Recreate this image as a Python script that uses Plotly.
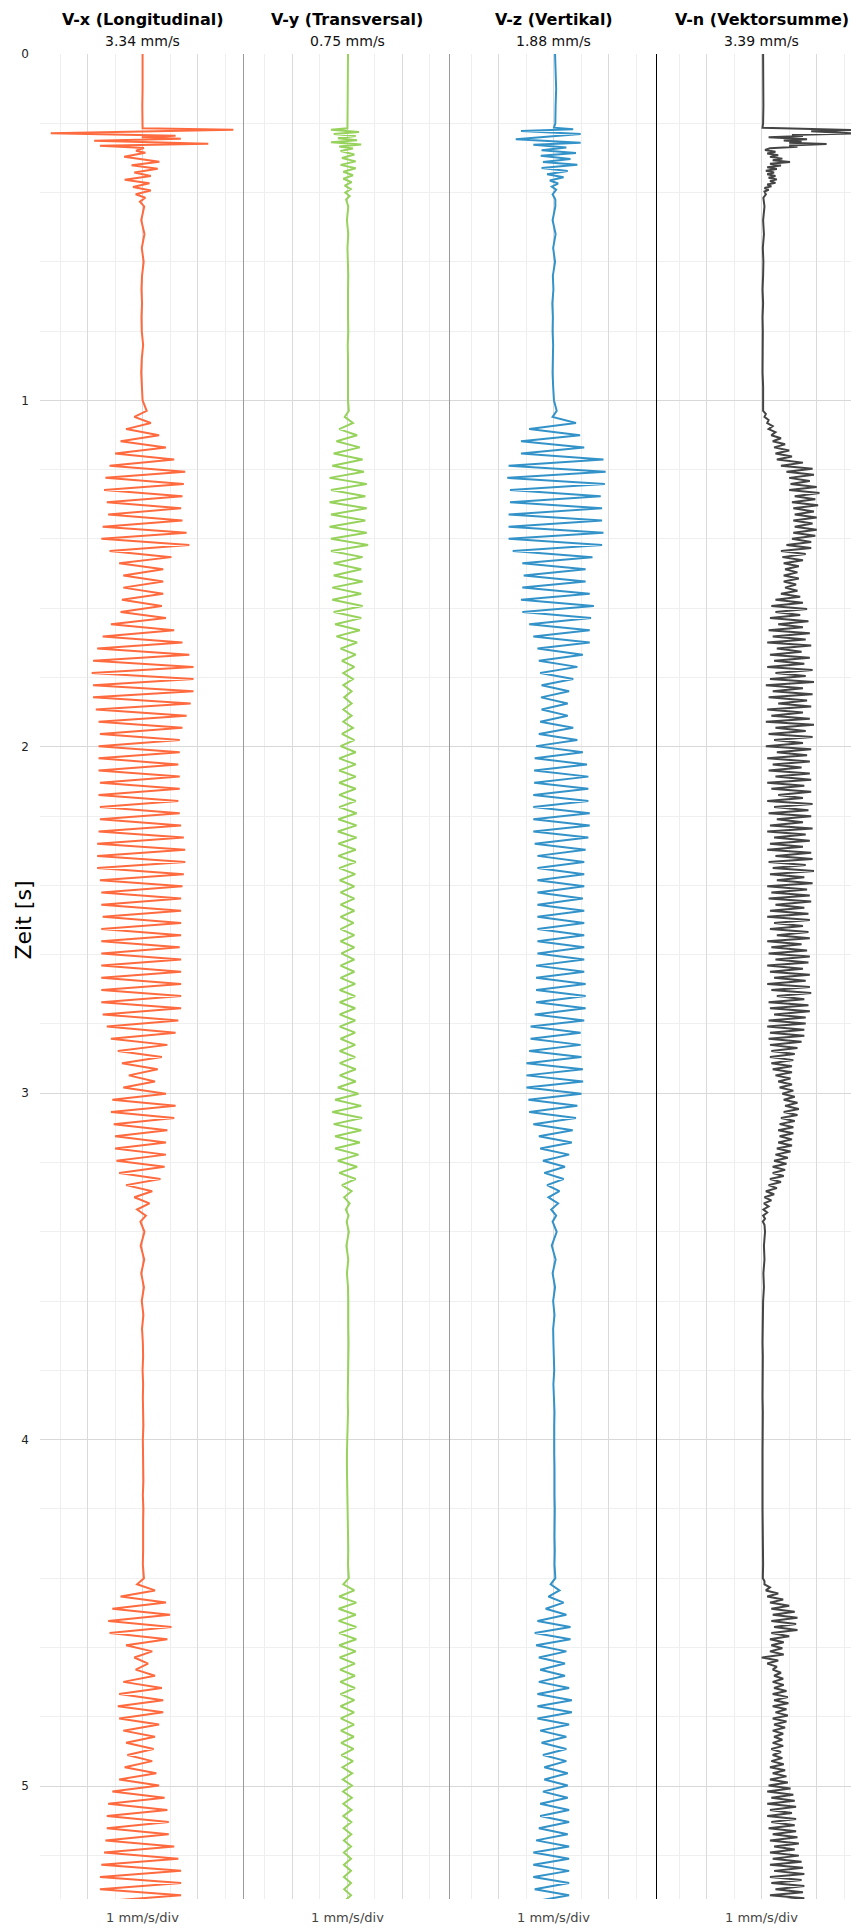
import numpy as np
import plotly.graph_objects as go
from plotly.subplots import make_subplots

# ---------------- labels / colours ----------------
TITLES = ["V-x (Longitudinal)", "V-y (Transversal)", "V-z (Vertikal)", "V-n (Vektorsumme)"]
PEAKS = ["3.34 mm/s", "0.75 mm/s", "1.88 mm/s", "3.39 mm/s"]
SCALE_LABEL = "1 mm/s/div"
Y_TITLE = "Zeit [s]"
COLORS = ["#ff6a3f", "#97d35c", "#3393c9", "#444444"]

# ---------------- sampling grids (time, s) ----------------
STEP = 0.0176      # spacing of component samples in the strong-motion segments
STEP_N = 0.0088    # spacing of vector-sum samples
SEG1_START = 1.03
SEG2_START = 4.40
PRE_T = [0.0, 0.05, 0.10, 0.15, 0.20]
QUIET1_T = [0.44, 0.48, 0.52, 0.56, 0.60, 0.64, 0.68, 0.72, 0.76, 0.80, 0.84, 0.88, 0.92, 0.96, 1.00]
QUIET2_T = [3.40, 3.44, 3.48, 3.52, 3.56, 3.60, 3.64, 3.68, 3.72, 3.76, 3.80, 3.84, 3.88,
            3.92, 3.96, 4.00, 4.04, 4.08, 4.12, 4.16, 4.20, 4.24, 4.28, 4.32, 4.36]

# ---------------- V-x ----------------
VX_PRE = [0.0, 0.01, 0.0, -0.01, 0.0]
VX_BURST_T = [0.2145, 0.2185, 0.229, 0.236, 0.2405, 0.2445, 0.2502, 0.2589, 0.2647, 0.2714, 0.279, 0.285,
              0.2964, 0.3108, 0.321, 0.331, 0.342, 0.352, 0.363, 0.373, 0.384, 0.394, 0.405, 0.415, 0.426]
VX_BURST = [0.0, 3.30, -3.34, 1.2, -0.03, 1.39, -1.76, 2.39, -1.55, 0.05, -0.24, 0.1,
            -0.67, 0.61, -0.4, 0.55, -0.3, 0.3, -0.65, 0.25, -0.35, 0.3, -0.25, 0.1, -0.1]
VX_Q1 = [0.06, -0.05, 0.07, -0.03, 0.04, -0.02, -0.04, -0.02, -0.04, -0.03, 0.02, -0.03, -0.05, -0.02, 0.0]
VX_S1 = [0.15, -0.3, 0.3, -0.6, 0.6, -0.8, 0.85, -1.0, 1.15, -1.2,
         1.55, -1.35, 1.5, -1.4, 1.45, -1.3, 1.4, -1.25, 1.45, -1.45,
         1.6, -1.5, 1.7, -1.2, 1.05, -0.85, 0.75, -0.7, 0.75, -0.7,
         0.75, -0.75, 0.7, -0.8, 0.85, -1.15, 1.15, -1.45, 1.45, -1.65,
         1.7, -1.8, 1.85, -1.85, 1.85, -1.8, 1.85, -1.8, 1.75, -1.7,
         1.6, -1.6, 1.45, -1.55, 1.35, -1.6, 1.35, -1.6, 1.3, -1.6,
         1.35, -1.55, 1.35, -1.6, 1.3, -1.55, 1.35, -1.55, 1.4, -1.6,
         1.5, -1.65, 1.55, -1.65, 1.55, -1.65, 1.5, -1.55, 1.45, -1.5,
         1.4, -1.5, 1.4, -1.45, 1.4, -1.5, 1.4, -1.5, 1.35, -1.5,
         1.4, -1.5, 1.4, -1.5, 1.4, -1.5, 1.4, -1.5, 1.4, -1.45,
         1.3, -1.3, 1.2, -1.15, 0.9, -0.9, 0.7, -0.75, 0.55, -0.5,
         0.45, -0.7, 0.85, -1.1, 1.2, -1.15, 1.15, -1.05, 0.9, -1.0,
         0.85, -1.0, 0.85, -0.95, 0.8, -0.85, 0.65, -0.6, 0.35, -0.3,
         0.25, -0.2, 0.12, -0.08]
VX_Q2 = [0.07, -0.07, 0.06, -0.05, 0.05, -0.03, 0.03, -0.02, 0.01, 0.02, 0.0, 0.02, 0.01,
         0.02, 0.03, 0.01, 0.02, 0.02, 0.03, 0.01, 0.03, 0.02, 0.03, 0.02, 0.01]
VX_S2 = [0.05, -0.2, 0.45, -0.8, 0.85, -1.1, 1.0, -1.25, 1.05, -1.2,
         0.9, -0.6, 0.35, -0.3, 0.2, -0.25, 0.45, -0.7, 0.7, -0.85,
         0.75, -0.9, 0.75, -0.85, 0.6, -0.7, 0.45, -0.6, 0.4, -0.55,
         0.35, -0.65, 0.5, -0.85, 0.6, -1.1, 0.8, -1.25, 0.9, -1.3,
         0.95, -1.3, 0.95, -1.35, 1.15, -1.4, 1.3, -1.5, 1.4, -1.55,
         1.4, -1.55, 1.4, -1.5]

# ---------------- V-y ----------------
VY_PRE = [0.02, 0.02, 0.01, 0.02, 0.01]
VY_BURST_T = [0.2145, 0.219, 0.225, 0.231, 0.237, 0.243, 0.249, 0.255, 0.261, 0.267, 0.273, 0.28, 0.29,
              0.30, 0.31, 0.32, 0.33, 0.34, 0.35, 0.36, 0.37, 0.38, 0.39, 0.40, 0.41, 0.42]
VY_BURST = [0.0, -0.6, 0.42, -0.5, 0.3, -0.35, 0.35, -0.6, 0.5, -0.3, 0.2, -0.25, 0.25,
            -0.2, 0.3, -0.25, 0.3, -0.15, 0.2, -0.15, 0.15, -0.1, 0.12, -0.08, 0.08, -0.05]
VY_Q1 = [0.03, -0.02, 0.03, 0.0, 0.02, 0.03, 0.02, 0.01, 0.02, 0.03, 0.01, 0.02, 0.01, 0.02, 0.02]
VY_S1 = [0.05, -0.1, 0.2, -0.3, 0.35, -0.4, 0.45, -0.5, 0.55, -0.55,
         0.6, -0.65, 0.7, -0.6, 0.65, -0.65, 0.7, -0.6, 0.65, -0.65,
         0.7, -0.6, 0.75, -0.6, 0.55, -0.5, 0.5, -0.5, 0.55, -0.55,
         0.5, -0.55, 0.55, -0.5, 0.5, -0.45, 0.45, -0.4, 0.35, -0.25,
         0.3, -0.2, 0.25, -0.15, 0.2, -0.15, 0.15, -0.12, 0.15, -0.15,
         0.15, -0.15, 0.2, -0.2, 0.25, -0.25, 0.3, -0.3, 0.3, -0.3,
         0.3, -0.3, 0.3, -0.3, 0.3, -0.3, 0.33, -0.33, 0.33, -0.35,
         0.33, -0.33, 0.3, -0.33, 0.3, -0.3, 0.28, -0.28, 0.25, -0.25,
         0.25, -0.25, 0.25, -0.25, 0.22, -0.25, 0.25, -0.25, 0.25, -0.22,
         0.25, -0.25, 0.25, -0.25, 0.28, -0.28, 0.28, -0.28, 0.28, -0.28,
         0.28, -0.28, 0.28, -0.25, 0.28, -0.28, 0.28, -0.28, 0.3, -0.28,
         0.3, -0.35, 0.4, -0.45, 0.5, -0.55, 0.53, -0.5, 0.5, -0.45,
         0.45, -0.45, 0.4, -0.35, 0.35, -0.3, 0.3, -0.2, 0.15, -0.12,
         0.08, -0.06, 0.04, -0.03]
VY_Q2 = [0.05, -0.04, 0.03, -0.02, 0.02, 0.03, 0.02, 0.03, 0.04, 0.03, 0.02, 0.03, 0.01,
         0.02, 0.0, -0.01, -0.02, -0.02, -0.01, 0.0, 0.01, 0.02, 0.02, 0.03, 0.02]
VY_S2 = [0.05, -0.15, 0.25, -0.3, 0.32, -0.32, 0.3, -0.32, 0.32, -0.3,
         0.32, -0.3, 0.3, -0.28, 0.27, -0.27, 0.27, -0.26, 0.27, -0.25,
         0.25, -0.25, 0.24, -0.24, 0.24, -0.24, 0.23, -0.23, 0.22, -0.22,
         0.2, -0.18, 0.17, -0.17, 0.16, -0.16, 0.16, -0.15, 0.15, -0.15,
         0.14, -0.14, 0.14, -0.13, 0.13, -0.13, 0.13, -0.13, 0.13, -0.13,
         0.13, -0.12, 0.13, -0.12]

# ---------------- V-z ----------------
VZ_PRE = [0.04, 0.06, 0.08, 0.06, 0.05]
VZ_BURST_T = [0.2127, 0.2175, 0.2225, 0.2310, 0.2463, 0.2560, 0.2620, 0.2700, 0.2780, 0.2860, 0.2940, 0.3030,
              0.3120, 0.3200, 0.3290, 0.3380, 0.3470, 0.3560, 0.3650, 0.3740, 0.3830, 0.3920, 0.4050, 0.4200]
VZ_BURST = [0.0, 0.70, -1.20, 0.97, -1.39, 0.97, -0.75, 0.45, -0.45, 0.80, -0.48, 0.60,
            -0.40, 0.85, -0.45, 0.50, -0.25, 0.35, -0.15, 0.15, -0.08, 0.08, -0.05, 0.05]
VZ_Q1 = [0.05, -0.05, 0.06, -0.03, 0.04, -0.04, -0.02, -0.06, -0.04, -0.05, -0.03, -0.04, -0.05, -0.03, 0.0]
VZ_S1 = [0.1, -0.05, 0.8, -0.9, 0.95, -1.2, 1.1, -1.2, 1.8, -1.65,
         1.88, -1.7, 1.85, -1.6, 1.7, -1.6, 1.75, -1.65, 1.75, -1.65,
         1.8, -1.65, 1.75, -1.5, 1.4, -1.15, 1.15, -1.1, 1.15, -1.15,
         1.3, -1.2, 1.45, -1.15, 1.35, -0.9, 1.3, -0.75, 1.3, -0.6,
         1.05, -0.55, 0.85, -0.5, 0.7, -0.45, 0.55, -0.47, 0.5, -0.45,
         0.5, -0.5, 0.7, -0.55, 0.85, -0.65, 1.05, -0.7, 1.2, -0.72,
         1.25, -0.72, 1.25, -0.75, 1.25, -0.75, 1.3, -0.75, 1.3, -0.75,
         1.25, -0.7, 1.15, -0.6, 1.1, -0.6, 1.1, -0.6, 1.1, -0.6,
         1.05, -0.6, 1.1, -0.6, 1.1, -0.6, 1.1, -0.6, 1.1, -0.6,
         1.1, -0.65, 1.1, -0.65, 1.15, -0.65, 1.15, -0.65, 1.15, -0.7,
         1.1, -0.85, 0.97, -0.85, 0.97, -0.9, 1.0, -1.0, 1.05, -1.0,
         1.06, -1.0, 1.0, -0.93, 0.85, -0.9, 0.8, -0.75, 0.68, -0.55,
         0.65, -0.5, 0.55, -0.4, 0.4, -0.35, 0.35, -0.25, 0.2, -0.2,
         0.15, -0.1, 0.08, -0.05]
VZ_Q2 = [0.1, -0.08, 0.06, -0.05, 0.04, -0.03, 0.02, -0.03, -0.02, 0.0, 0.01, -0.02, 0.0,
         0.02, 0.01, 0.0, 0.01, 0.02, 0.01, 0.02, 0.03, 0.02, 0.02, 0.03, 0.02]
VZ_S2 = [0.05, -0.12, 0.2, -0.2, 0.35, -0.3, 0.45, -0.6, 0.6, -0.7,
         0.6, -0.65, 0.45, -0.55, 0.4, -0.5, 0.4, -0.55, 0.55, -0.6,
         0.65, -0.6, 0.65, -0.6, 0.55, -0.5, 0.45, -0.45, 0.45, -0.4,
         0.45, -0.35, 0.5, -0.35, 0.5, -0.4, 0.5, -0.5, 0.55, -0.5,
         0.55, -0.55, 0.5, -0.65, 0.55, -0.75, 0.55, -0.75, 0.55, -0.75,
         0.55, -0.7, 0.55, -0.7]

# ---------------- V-n (vector sum) ----------------
VN_PRE = [0.05, 0.06, 0.05, 0.06, 0.05]
VN_BURST_T = [0.2127, 0.2194, 0.2230, 0.2290, 0.2340, 0.2370, 0.2405, 0.2463, 0.2500, 0.2530, 0.2560,
              0.2598, 0.2640, 0.2680, 0.2720, 0.2771, 0.2820, 0.2870, 0.2920, 0.2970, 0.3020, 0.3070,
              0.3117, 0.3170, 0.3220, 0.3270, 0.3320, 0.3370, 0.3420, 0.3470, 0.3520, 0.3570, 0.3620,
              0.3670, 0.3720, 0.3770, 0.3820, 0.3870, 0.3920, 0.3970, 0.4050, 0.4150, 0.4300]
VN_BURST = [0.03, 3.33, 1.8, 3.39, 1.1, 1.5, 0.25, 1.65, 0.8, 1.45, 1.0,
            2.36, 1.0, 1.3, 0.3, 0.12, 0.5, 0.2, 0.6, 0.3, 0.75, 0.4,
            1.03, 0.3, 0.7, 0.2, 0.55, 0.15, 0.45, 0.2, 0.5, 0.25, 0.55,
            0.3, 0.5, 0.2, 0.35, 0.1, 0.25, 0.1, 0.15, 0.06, 0.08]
VN_Q1 = [0.10, 0.05, 0.08, 0.04, 0.06, 0.05, 0.03, 0.05, 0.03, 0.04, 0.03, 0.04, 0.03, 0.05, 0.05]
VN_S1 = [0.05, 0.15, 0.1, 0.25, 0.2, 0.4, 0.25, 0.5, 0.35, 0.7, 0.4, 0.85, 0.45, 1.0, 0.5, 1.1, 0.55, 1.5, 0.7, 1.85,
         0.9, 1.9, 1.0, 1.75, 1.05, 2.0, 1.0, 2.1, 1.2, 1.95, 1.1, 2.05, 1.15, 1.9, 1.2, 2.0, 1.15, 1.85, 1.2, 2.0,
         1.15, 1.95, 1.1, 1.8, 0.9, 1.8, 0.7, 1.6, 0.75, 1.5, 0.8, 1.35, 0.85, 1.3, 0.8, 1.35, 0.8, 1.25, 0.85, 1.3,
         0.7, 1.4, 0.5, 1.5, 0.35, 1.65, 0.5, 1.4, 0.3, 1.7, 0.6, 1.5, 0.25, 1.75, 0.4, 1.6, 0.2, 1.8, 0.55, 1.45,
         0.3, 1.75, 0.45, 1.55, 0.2, 1.85, 0.5, 1.6, 0.3, 1.9, 0.15, 1.5, 0.4, 1.85, 0.25, 1.65, 0.6, 1.8, 0.2, 1.5,
         0.35, 1.75, 0.15, 1.9, 0.5, 1.6, 0.25, 1.85, 0.45, 1.5, 0.15, 1.8, 0.55, 1.65, 0.2, 1.75, 0.4, 1.45, 0.25, 1.75,
         0.5, 1.8, 0.2, 1.55, 0.35, 1.8, 0.6, 1.5, 0.2, 1.85, 0.45, 1.7, 0.25, 1.8, 0.55, 1.5, 0.3, 1.85, 0.2, 1.6,
         0.45, 1.75, 0.3, 1.5, 0.2, 1.8, 0.5, 1.85, 0.25, 1.6, 0.4, 1.9, 0.3, 1.55, 0.55, 1.85, 0.2, 1.65, 0.35, 1.75,
         0.25, 1.8, 0.5, 1.55, 0.3, 1.7, 0.2, 1.75, 0.45, 1.5, 0.3, 1.7, 0.55, 1.75, 0.2, 1.45, 0.35, 1.65, 0.25, 1.75,
         0.5, 1.7, 0.2, 1.5, 0.3, 1.75, 0.45, 1.6, 0.2, 1.75, 0.35, 1.8, 0.55, 1.55, 0.25, 1.7, 0.3, 1.75, 0.45, 1.6,
         0.25, 1.6, 0.2, 1.55, 0.3, 1.55, 0.25, 1.45, 0.3, 1.3, 0.35, 1.2, 0.3, 1.15, 0.35, 1.1, 0.4, 1.1, 0.5, 1.05,
         0.6, 1.1, 0.65, 1.15, 0.75, 1.2, 0.8, 1.3, 0.85, 1.35, 0.8, 1.3, 0.7, 1.2, 0.65, 1.15, 0.6, 1.15, 0.65, 1.1,
         0.6, 1.1, 0.55, 1.05, 0.5, 0.95, 0.45, 0.9, 0.4, 0.85, 0.4, 0.8, 0.3, 0.7, 0.25, 0.55, 0.15, 0.45, 0.1, 0.35,
         0.08, 0.25, 0.06, 0.2, 0.05, 0.12, 0.04, 0.1]
VN_Q2 = [0.12, 0.08, 0.1, 0.06, 0.08, 0.05, 0.04, 0.05, 0.03, 0.04, 0.03, 0.04, 0.03,
         0.04, 0.03, 0.04, 0.03, 0.03, 0.04, 0.03, 0.03, 0.04, 0.03, 0.04, 0.05]
VN_S2 = [0.04, 0.1, 0.1, 0.3, 0.15, 0.6, 0.2, 0.78, 0.3, 1.0, 0.35, 1.2, 0.4, 1.3, 0.35, 1.25, 0.45, 1.3, 0.35, 1.0,
         0.3, 0.8, 0.35, 0.75, 0.3, 0.8, 0.0, 0.6, 0.2, 0.55, 0.4, 0.7, 0.45, 0.78, 0.4, 0.8, 0.45, 0.9, 0.4, 0.95,
         0.45, 0.97, 0.4, 0.9, 0.5, 0.95, 0.4, 0.9, 0.45, 0.85, 0.4, 0.78, 0.45, 0.75, 0.4, 0.78, 0.35, 0.7, 0.4, 0.75,
         0.35, 0.8, 0.3, 0.85, 0.4, 0.9, 0.3, 0.95, 0.25, 1.05, 0.2, 1.15, 0.35, 1.2, 0.2, 1.25, 0.3, 1.1, 0.2, 1.25,
         0.35, 1.2, 0.25, 1.25, 0.4, 1.3, 0.3, 1.35, 0.45, 1.2, 0.3, 1.35, 0.4, 1.45, 0.3, 1.5, 0.45, 1.55, 0.3, 1.45,
         0.35, 1.55, 0.5, 1.5, 0.3, 1.55, 0.35, 1.5]


def assemble(pre, burst_t, burst_v, q1, s1, q2, s2, step):
    n_b = min(len(burst_t), len(burst_v))
    t1 = SEG1_START + step * np.arange(len(s1))
    t2 = SEG2_START + step * np.arange(len(s2))
    t = np.concatenate([PRE_T[:len(pre)], burst_t[:n_b], QUIET1_T[:len(q1)], t1,
                        QUIET2_T[:len(q2)], t2])
    v = np.concatenate([pre[:len(PRE_T)], burst_v[:n_b], q1[:len(QUIET1_T)], s1,
                        q2[:len(QUIET2_T)], s2])
    return t, v


TRACES = [
    assemble(VX_PRE, VX_BURST_T, VX_BURST, VX_Q1, VX_S1, VX_Q2, VX_S2, STEP),
    assemble(VY_PRE, VY_BURST_T, VY_BURST, VY_Q1, VY_S1, VY_Q2, VY_S2, STEP),
    assemble(VZ_PRE, VZ_BURST_T, VZ_BURST, VZ_Q1, VZ_S1, VZ_Q2, VZ_S2, STEP),
    assemble(VN_PRE, VN_BURST_T, VN_BURST, VN_Q1, VN_S1, VN_Q2, VN_S2, STEP_N),
]

# ---------------- figure geometry ----------------
# the page body adds an 8 px margin, so the figure is drawn 8 px smaller and
# all page positions below are converted to figure positions.
BODY = 8
PAGE_W, PAGE_H = 859, 1931
W, H = PAGE_W - BODY, PAGE_H - BODY
PLOT_L, PLOT_T, PLOT_B = 40, 54, 1899          # plot area in page pixels
ML, MT, MR = PLOT_L - BODY, PLOT_T - BODY, 0
MB = PAGE_H - PLOT_B
PW, PH = W - ML - MR, H - MT - MB
COL_EDGES_PX = [40, 243.5, 449.5, 656.5, 859]   # page pixels
X_RANGES = [[-3.73, 3.67], [-3.78, 3.71], [-3.80, 3.73], [-3.83, 3.54]]
T_MAX = 5.326
FONT = "DejaVu Sans"


def px_to_paper_x(px):
    return (px - PLOT_L) / PW


def py_to_paper_y(py):
    return 1 - (py - PLOT_T) / PH


fig = make_subplots(rows=1, cols=4, shared_yaxes=True, horizontal_spacing=0)

for i, (t, v) in enumerate(TRACES):
    fig.add_trace(go.Scatter(x=v, y=t, mode="lines",
                             line=dict(color=COLORS[i], width=2.0),
                             hoverinfo="skip", showlegend=False), row=1, col=i + 1)

for i in range(4):
    d0 = max(0.0, px_to_paper_x(COL_EDGES_PX[i]))
    d1 = min(1.0, px_to_paper_x(COL_EDGES_PX[i + 1]))
    fig.update_xaxes(domain=[d0, d1], range=X_RANGES[i], showticklabels=False, ticks="",
                     tick0=0, dtick=2, showgrid=True, gridcolor="#dadada", gridwidth=1,
                     minor=dict(dtick=1, tick0=0, showgrid=True, gridcolor="#eeeeee", gridwidth=1),
                     zeroline=False, showline=False, fixedrange=True, row=1, col=i + 1)

fig.update_yaxes(range=[T_MAX, 0], tick0=0, dtick=1, showgrid=True, gridcolor="#d8d8d8", gridwidth=1,
                 minor=dict(dtick=0.2, tick0=0, showgrid=True, gridcolor="#efefef", gridwidth=1),
                 zeroline=False, showline=False, ticks="", ticklabelstandoff=10,
                 tickfont=dict(family=FONT, size=12, color="#222222"), fixedrange=True)

# column separators
sep_colors = ["#9a9a9a", "#9a9a9a", "#000000"]
for k in range(3):
    xp = px_to_paper_x(COL_EDGES_PX[k + 1])
    fig.add_shape(type="line", xref="paper", yref="paper", x0=xp, x1=xp, y0=0, y1=1,
                  line=dict(color=sep_colors[k], width=1))

# header / footer texts
for i in range(4):
    xr = "x" if i == 0 else f"x{i + 1}"
    fig.add_annotation(text=f"<b>{TITLES[i]}</b>", xref=xr, yref="paper", x=0, y=py_to_paper_y(BODY + 1),
                       showarrow=False, xanchor="center", yanchor="top", borderpad=0,
                       font=dict(family=FONT, size=16, color="#000000"))
    fig.add_annotation(text=PEAKS[i], xref=xr, yref="paper", x=0, y=py_to_paper_y(41),
                       showarrow=False, xanchor="center", yanchor="middle",
                       font=dict(family=FONT, size=14, color="#111111"))
    fig.add_annotation(text=SCALE_LABEL, xref=xr, yref="paper", x=0, y=py_to_paper_y(1917),
                       showarrow=False, xanchor="center", yanchor="middle",
                       font=dict(family=FONT, size=13, color="#444444"))

fig.add_annotation(text=Y_TITLE, xref="paper", yref="paper", x=px_to_paper_x(BODY + 1), y=py_to_paper_y(920),
                   textangle=-90, showarrow=False, xanchor="left", yanchor="middle", borderpad=0,
                   font=dict(family=FONT, size=22, color="#000000"))

fig.update_layout(width=W, height=H, margin=dict(l=ML, r=MR, t=MT, b=MB, pad=0, autoexpand=False),
                  plot_bgcolor="#ffffff", paper_bgcolor="#ffffff", showlegend=False,
                  font=dict(family=FONT))

fig.write_html("out.html")
